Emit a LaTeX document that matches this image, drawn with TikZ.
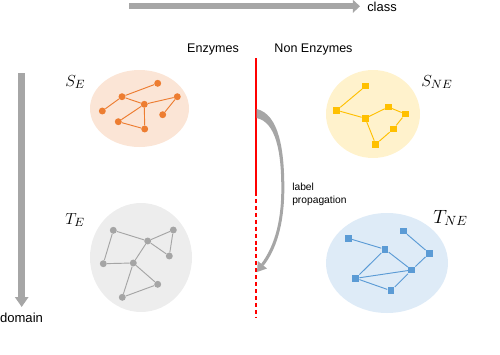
\documentclass[tikz,border=0pt]{standalone}
\usepackage{fontspec}
\setmainfont{Liberation Sans}
\usetikzlibrary{arrows.meta}
\definecolor{peachbg}{HTML}{FBE5D6}
\definecolor{yellowbg}{HTML}{FFF2CC}
\definecolor{graybg}{HTML}{EDEDED}
\definecolor{bluebg}{HTML}{DEEBF7}
\definecolor{orangefg}{HTML}{ED7D31}
\definecolor{yellowfg}{HTML}{FFC000}
\definecolor{grayfg}{HTML}{A5A5A5}
\definecolor{bluefg}{HTML}{5B9BD5}
\definecolor{arrowgray}{HTML}{A6A6A6}
\begin{document}
\begin{tikzpicture}[x=0.75pt,y=-0.75pt,
  onode/.style={circle, fill=orangefg, inner sep=0pt, minimum size=5.2pt},
  ynode/.style={rectangle, fill=yellowfg, inner sep=0pt, minimum size=5pt},
  gnode/.style={circle, fill=grayfg, inner sep=0pt, minimum size=5.2pt},
  bnode/.style={rectangle, fill=bluefg, inner sep=0pt, minimum size=5.2pt},
  oedge/.style={draw=orangefg, line width=0.7pt},
  yedge/.style={draw=yellowfg, line width=0.7pt},
  gedge/.style={draw=grayfg, line width=0.7pt},
  bedge/.style={draw=bluefg, line width=0.7pt},
  sanslabel/.style={inner sep=0pt, font=\fontsize{9.4}{11}\selectfont},
  mathlabel/.style={inner sep=0pt, anchor=base west, font=\fontsize{13}{15}\selectfont},
  bigarrow/.style={draw=arrowgray},
]
\useasboundingbox (0,0) rectangle (500,354);

% ---- axis arrows ----
\node[sanslabel, anchor=west, font=\fontsize{9.7}{11}\selectfont] (class) at (367,7) {class};
\coordinate (classstart) at (129,6.3);
\coordinate (classend) at (360,6.3);
\draw[bigarrow, line width=4.5pt, -{Triangle[length=5.3pt, width=9.5pt]}] (classstart) -- (classend);

\node[sanslabel, font=\fontsize{9.8}{11}\selectfont] (domain) at (21.5,318) {domain};
\coordinate (domstart) at (21.7,73);
\coordinate (domend) at (21.7,307);
\draw[bigarrow, line width=5pt, -{Triangle[length=7.5pt, width=9.8pt]}] (domstart) -- (domend);

% ---- column headings ----
\node[sanslabel] (enz) at (213,49) {Enzymes};
\node[sanslabel] (nonenz) at (313.5,49) {Non Enzymes};

% ---- separator ----
\coordinate (sepA) at (256,58);
\coordinate (sepB) at (256,192);
\coordinate (sepC) at (256,317);
\draw[red, line width=0.8pt] (sepA) -- (sepB);
\draw[red, line width=0.8pt, dash pattern=on 3pt off 2.2pt] (sepB) -- (sepC);

% ---- label propagation curved arrow ----
\fill[arrowgray]
  (256.5,109) .. controls (279,114) and (284.5,150) .. (284.3,190)
  .. controls (284,225) and (276,250) .. (263.6,265.7)
  -- (261.2,263.9)
  .. controls (273,248) and (281.2,225) .. (281.3,190)
  .. controls (281.5,152) and (276,122) .. (256.5,118) -- cycle;
\fill[arrowgray] (257,272) -- (267,268.5) -- (257.8,261) -- cycle;
\node[sanslabel, anchor=west, align=left, font=\fontsize{7.7}{9.4}\selectfont] (lp) at (292,194.5) {label\\propagation};

% ---- S_E ----
\fill[peachbg] (139.5,108.5) ellipse [x radius=49.5, y radius=38.5];
\node[mathlabel] (SE) at (65,86) {$S_E$};
\node[onode] (se1) at (157.7,83.3) {};
\node[onode] (se2) at (122,96.7) {};
\node[onode] (se3) at (144.3,104.3) {};
\node[onode] (se4) at (177.3,96.7) {};
\node[onode] (se5) at (102.3,111) {};
\node[onode] (se6) at (162.7,114.7) {};
\node[onode] (se7) at (118.3,121.7) {};
\node[onode] (se8) at (144.7,129) {};
\path[oedge] (se2) -- (se1) (se2) -- (se3) (se3) -- (se4) (se2) -- (se5)
  (se4) -- (se6) (se3) -- (se7) (se7) -- (se8) (se3) -- (se8);

% ---- S_NE ----
\fill[yellowbg] (373,114) ellipse [x radius=47, y radius=44];
\node[mathlabel] (SNE) at (421,86) {$S_{NE}$};
\node[ynode] (sn1) at (365.7,86) {};
\node[ynode] (sn2) at (336.7,110.3) {};
\node[ynode] (sn3) at (365.3,118.3) {};
\node[ynode] (sn4) at (388.3,107) {};
\node[ynode] (sn5) at (405.3,114) {};
\node[ynode] (sn6) at (393.3,129) {};
\node[ynode] (sn7) at (375.7,144.3) {};
\path[yedge] (sn1) -- (sn2) (sn2) -- (sn3) (sn3) -- (sn4) (sn4) -- (sn5)
  (sn5) -- (sn6) (sn6) -- (sn7) (sn7) -- (sn3);

% ---- T_E ----
\fill[graybg] (141,257.5) ellipse [x radius=51, y radius=54.5];
\node[mathlabel] (TE) at (65,224) {$T_E$};
\node[gnode] (te1) at (113.3,230.3) {};
\node[gnode] (te2) at (173.3,230) {};
\node[gnode] (te3) at (147.7,241) {};
\node[gnode] (te4) at (169.3,256) {};
\node[gnode] (te5) at (103.3,263.7) {};
\node[gnode] (te6) at (133.3,263) {};
\node[gnode] (te7) at (157.7,284.3) {};
\node[gnode] (te8) at (122.3,297.3) {};
\path[gedge] (te1) -- (te3) (te3) -- (te2) (te2) -- (te4) (te4) -- (te3)
  (te3) -- (te6) (te1) -- (te5) (te5) -- (te6) (te6) -- (te7) (te7) -- (te8) (te8) -- (te6);

% ---- T_NE ----
\fill[bluebg] (387,263) ellipse [x radius=61, y radius=50];
\node[mathlabel, font=\fontsize{14}{16}\selectfont] (TNE) at (433,223) {$T_{NE}$};
\node[bnode] (tn1) at (348.3,238.3) {};
\node[bnode] (tn2) at (385,249.3) {};
\node[bnode] (tn3) at (403.3,231) {};
\node[bnode] (tn4) at (429.3,253.3) {};
\node[bnode] (tn5) at (411.7,270) {};
\node[bnode] (tn6) at (355.7,278.3) {};
\node[bnode] (tn7) at (391,290.7) {};
\path[bedge] (tn1) -- (tn2) (tn2) -- (tn5) (tn3) -- (tn4) (tn4) -- (tn5)
  (tn2) -- (tn6) (tn6) -- (tn5) (tn6) -- (tn7) (tn7) -- (tn5);
\end{tikzpicture}
\end{document}
